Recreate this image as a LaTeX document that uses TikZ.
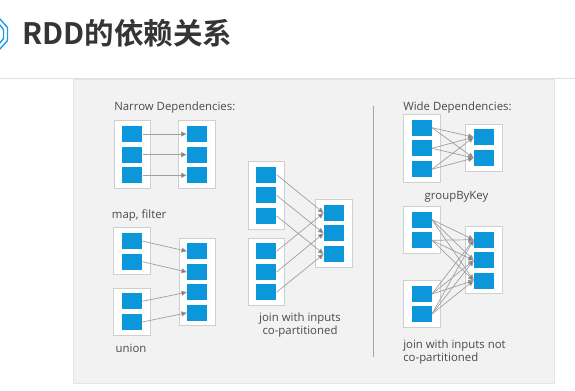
\documentclass[tikz,border=0pt]{standalone}
\usepackage{fontspec}
\setmainfont{Open Sans}
\newfontfamily\titlefont{Noto Sans CJK SC}[BoldFont={Noto Sans CJK SC Bold}]
\usetikzlibrary{arrows.meta,fit,backgrounds}

\definecolor{partblue}{HTML}{0C97DA}
\definecolor{boxgray}{HTML}{CFCFCF}
\definecolor{panelgray}{HTML}{F2F2F2}
\definecolor{linegray}{HTML}{A0A0A0}
\definecolor{tipgray}{HTML}{7A7A7A}
\definecolor{txtgray}{HTML}{4A4A4A}
\definecolor{titlegray}{HTML}{353535}
\definecolor{titleblue}{HTML}{1E9BE0}

\tikzset{
  part/.style={fill=partblue, minimum width=0.5cm, minimum height=0.4cm, inner sep=0pt},
  rdd/.style={draw=boxgray, fill=white, line width=0.6pt, inner xsep=0.2cm, inner ysep=0.12cm},
  dep/.style={draw=linegray, line width=0.5pt, -{Triangle[length=4pt,width=3.6pt,fill=tipgray]}},
  lbl/.style={text=txtgray, inner sep=0pt, font=\fontsize{8.1}{9.7}\selectfont},
}

\begin{document}
\begin{tikzpicture}[x=0.025cm, y=-0.025cm]
    \useasboundingbox (0,0) rectangle (575,390);

    % Title
    \draw[titleblue, line width=1pt] (-1,18) -- (7.5,27.5) -- (7.5,40.5) -- (-1,50);
    \draw[titleblue, line width=1pt] (-1,24) -- (3.5,29.5) -- (3.5,38.5) -- (-1,44);
    \node[anchor=west, inner sep=0pt, text=titlegray,
          font=\titlefont\bfseries\fontsize{21}{23}\selectfont] (title) at (22,33) {RDD的依赖关系};
    \draw[black!12, line width=0.5pt] (0,78) -- (575,78);

    % Divider
    \draw[black!35, line width=0.7pt] (373,106) -- (373,357);

    % Narrow: map, filter
    \node[lbl, anchor=west] (narrow) at (114,108) {Narrow Dependencies:};
    \foreach \i/\y in {1/134,2/154.7,3/175.3} {
        \node[part] (ma\i) at (132.3,\y) {};
        \node[part] (mb\i) at (197,\y) {};
    }
    \foreach \i in {1,2,3}
        \draw[dep] (ma\i.east) -- (mb\i.west);
    \node[lbl, anchor=west] (mapfilter) at (111.7,216) {map, filter};

    % Narrow: union
    \foreach \i/\y in {1/241,2/261.7} {
        \node[part] (ua\i) at (132,\y) {};
    }
    \foreach \i/\y in {1/301.3,2/322} {
        \node[part] (ub\i) at (132,\y) {};
    }
    \foreach \i/\y in {1/251.3,2/272,3/292.2,4/312.8} {
        \node[part] (uc\i) at (197.3,\y) {};
    }
    \draw[dep] (ua1.east) -- (uc1.west);
    \draw[dep] (ua2.east) -- (uc2.west);
    \draw[dep] (ub1.east) -- (uc3.west);
    \draw[dep] (ub2.east) -- (uc4.west);
    \node[lbl] (union) at (131,348) {union};

    % Narrow: join, co-partitioned
    \foreach \i/\y in {1/174.7,2/195.3,3/216} {
        \node[part] (ja\i) at (266.3,\y) {};
    }
    \foreach \i/\y in {1/251.2,2/272,3/292.2} {
        \node[part] (jb\i) at (266.3,\y) {};
    }
    \foreach \i/\y in {1/213,2/233.3,3/254} {
        \node[part] (jc\i) at (334,\y) {};
    }
    \foreach \i in {1,2,3} {
        \draw[dep] (ja\i.east) -- (jc\i.west);
        \draw[dep] (jb\i.east) -- (jc\i.west);
    }
    \node[lbl, align=center] (joinco) at (300,325) {join with inputs\\co-partitioned};

    % Wide: groupByKey
    \node[lbl, anchor=west] (wide) at (403,108) {Wide Dependencies:};
    \foreach \i/\y in {1/127.7,2/148.3,3/169.2} {
        \node[part] (ga\i) at (421.7,\y) {};
    }
    \foreach \i/\y in {1/137.2,2/158} {
        \node[part] (gb\i) at (484,\y) {};
    }
    \foreach \i in {1,2,3}
        \foreach \j in {1,2}
            \draw[dep] (ga\i.east) -- (gb\j.west);
    \node[lbl] (groupbykey) at (456.5,197) {groupByKey};

    % Wide: join, not co-partitioned
    \foreach \i/\y in {1/219.7,2/240.3} {
        \node[part] (wa\i) at (421.7,\y) {};
    }
    \foreach \i/\y in {1/294,2/314} {
        \node[part] (wb\i) at (421.7,\y) {};
    }
    \foreach \i/\y in {1/239.7,2/260.3,3/280.5} {
        \node[part] (wc\i) at (484,\y) {};
    }
    \foreach \j in {1,2,3} {
        \foreach \i in {1,2} {
            \draw[dep] (wa\i.east) -- (wc\j.west);
            \draw[dep] (wb\i.east) -- (wc\j.west);
        }
    }
    \node[lbl, anchor=west, align=left] (joinnot) at (403,352) {join with inputs not\\co-partitioned};

    % Panel and RDD boxes behind the partitions
    \begin{scope}[on background layer]
        \draw[fill=panelgray, draw=black!10] (73,79) rectangle (554,383);
        \node[rdd, fit=(ma1)(ma3)] (mapin) {};
        \node[rdd, fit=(mb1)(mb3)] (mapout) {};
        \node[rdd, fit=(ua1)(ua2)] (unionina) {};
        \node[rdd, fit=(ub1)(ub2)] (unioninb) {};
        \node[rdd, fit=(uc1)(uc4)] (unionout) {};
        \node[rdd, fit=(ja1)(ja3)] (joinina) {};
        \node[rdd, fit=(jb1)(jb3)] (joininb) {};
        \node[rdd, fit=(jc1)(jc3)] (joinout) {};
        \node[rdd, fit=(ga1)(ga3)] (groupin) {};
        \node[rdd, fit=(gb1)(gb2)] (groupout) {};
        \node[rdd, fit=(wa1)(wa2)] (wideina) {};
        \node[rdd, fit=(wb1)(wb2)] (wideinb) {};
        \node[rdd, fit=(wc1)(wc3)] (wideout) {};
    \end{scope}
\end{tikzpicture}
\end{document}
